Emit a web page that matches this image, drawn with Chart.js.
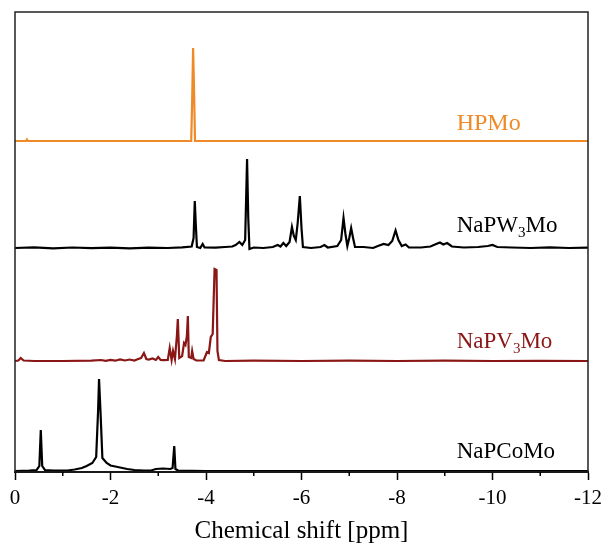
<!DOCTYPE html>
<html>
<head>
<meta charset="utf-8">
<script src="https://cdn.jsdelivr.net/npm/chart.js@4"></script>
<style>
  body { margin: 0; background: #fff; }
</style>
</head>
<body>
<canvas id="myChart" width="601" height="544"></canvas>
<script>
// spectra as [chemical shift (ppm), intensity]
const hpmo = [[0,0],[-0.23,0],[-0.25,1.5],[-0.27,0],[-3.69,0],[-3.71,40],[-3.73,93],[-3.75,50],[-3.77,0],[-12,0]];

const napw3mo = [[0,0],[-0.4,0.6],[-0.8,-0.3],[-1.2,0.5],[-1.6,-0.2],[-2.0,0.4],[-2.4,-0.4],[-2.8,0.3],[-3.2,0],[-3.5,0.6],
  [-3.7,1.5],[-3.74,10],[-3.765,47],[-3.785,25],[-3.81,1],[-3.88,0],[-3.93,4],[-3.97,0.5],[-4.2,0.3],[-4.4,1],[-4.55,1.5],
  [-4.62,3],[-4.7,6],[-4.76,3],[-4.82,8],[-4.86,89],[-4.885,30],[-4.91,-1],[-5.0,0.5],[-5.2,0],[-5.4,1],[-5.5,3],[-5.56,1.5],
  [-5.62,5],[-5.68,2],[-5.75,6],[-5.8,21],[-5.84,12],[-5.88,8],[-5.92,25],[-5.965,52],[-6.0,20],[-6.03,1],[-6.2,0],[-6.4,1],
  [-6.48,3],[-6.55,0.5],[-6.75,2],[-6.83,8],[-6.88,30],[-6.92,14],[-6.96,2],[-7.0,10],[-7.04,20],[-7.08,10],[-7.12,1],
  [-7.3,1],[-7.5,0],[-7.6,2],[-7.72,4],[-7.82,3],[-7.9,7],[-7.97,17.5],[-8.03,8],[-8.1,2],[-8.18,3.5],[-8.25,0.5],[-8.5,0.5],
  [-8.7,1.5],[-8.82,4],[-8.9,5.5],[-8.97,3.5],[-9.05,5],[-9.15,1.5],[-9.4,0.5],[-9.7,1],[-9.9,2],[-10.0,3],[-10.1,1],
  [-10.4,0.5],[-10.8,0],[-11.2,0.6],[-11.6,0],[-12,0.3]];

const napv3mo = [[0,0],[-0.07,0.5],[-0.12,3],[-0.18,0.5],[-0.4,0],[-1.0,0],[-1.6,0.3],[-1.8,1],[-1.9,0.2],[-2.0,1.2],[-2.1,0.3],
  [-2.2,1.5],[-2.3,0.5],[-2.4,1.5],[-2.5,0.5],[-2.58,2],[-2.64,3],[-2.7,8],[-2.75,2],[-2.8,1.5],[-2.88,2.5],[-2.95,1],[-3.0,4],
  [-3.05,1],[-3.1,0.8],[-3.2,1],[-3.24,13],[-3.28,1],[-3.31,10],[-3.35,2],[-3.39,25],[-3.41,42],[-3.44,3],[-3.5,5],[-3.54,18],
  [-3.57,16],[-3.6,25],[-3.62,45],[-3.64,4],[-3.69,3],[-3.71,10],[-3.74,2],[-3.8,0.5],[-3.95,0.5],[-4.02,9],[-4.06,8],
  [-4.1,24],[-4.14,27],[-4.16,60],[-4.18,92],[-4.22,91],[-4.24,10],[-4.27,1],[-4.4,0],[-5.0,0.3],[-6,0],[-7,0.3],[-8,0],
  [-9,0.3],[-10,0],[-11,0.2],[-12,0]];

const napcomo = [[0,0],[-0.3,0.3],[-0.45,0.8],[-0.51,5],[-0.54,41],[-0.57,5],[-0.63,0.8],[-0.8,0.3],[-1.1,0.5],[-1.25,1.5],
  [-1.4,3],[-1.5,5],[-1.62,8],[-1.7,14],[-1.74,60],[-1.76,92],[-1.79,60],[-1.83,13],[-1.92,8],[-2.0,5.5],[-2.1,4.5],
  [-2.2,3.5],[-2.35,2],[-2.5,1],[-2.7,0.3],[-2.85,0.5],[-2.95,2],[-3.1,2.5],[-3.25,2],[-3.3,3],[-3.335,25],[-3.36,2],
  [-3.42,0.3],[-4,0],[-12,0]];

const spectra = [hpmo, napw3mo, napv3mo, napcomo];
const offsets = [331, 224, 111, 1];
const colors = ['#ef8a28', '#000000', '#8b1616', '#000000'];
// label: main text, subscript, rest ; placed by its baseline in data units
const labels = [['HPMo', '', ''], ['NaPW', '3', 'Mo'], ['NaPV', '3', 'Mo'], ['NaPCoMo', '', '']];
const labelY = [342, 240, 124, 14];
const labelX = -9.25;

const serif = "'Liberation Serif', 'Times New Roman', serif";

const datasets = spectra.map((s, i) => ({
    label: labels[i].join(''),
    data: s.map(p => ({ x: p[0], y: p[1] + offsets[i] })),
    borderColor: colors[i],
    borderWidth: 2.2,
    pointRadius: 0,
    showLine: true,
    tension: 0
}));

// frame, minor ticks and the sample names
const decorations = {
    id: 'decorations',
    afterDatasetsDraw(chart) {
        const ctx = chart.ctx;
        const a = chart.chartArea;
        const xs = chart.scales.x, ys = chart.scales.y;
        ctx.save();
        ctx.strokeStyle = '#222';
        ctx.lineWidth = 1.5;
        ctx.strokeRect(a.left, a.top, a.right - a.left, a.bottom - a.top);
        ctx.strokeStyle = '#000';
        ctx.lineWidth = 1.5;
        for (let v = -1; v >= -11; v -= 2) {
            const px = xs.getPixelForValue(v);
            ctx.beginPath();
            ctx.moveTo(px, a.bottom);
            ctx.lineTo(px, a.bottom + 4);
            ctx.stroke();
        }
        ctx.textBaseline = 'alphabetic';
        ctx.textAlign = 'left';
        labels.forEach((l, i) => {
            let px = xs.getPixelForValue(labelX);
            const py = ys.getPixelForValue(labelY[i]);
            ctx.fillStyle = colors[i];
            ctx.font = (i === 0 ? '24px ' : '23px ') + serif;
            ctx.fillText(l[0], px, py);
            px += ctx.measureText(l[0]).width;
            if (l[1]) {
                ctx.font = '15px ' + serif;
                ctx.fillText(l[1], px, py + 5);
                px += ctx.measureText(l[1]).width;
                ctx.font = '23px ' + serif;
                ctx.fillText(l[2], px, py);
            }
        });
        ctx.restore();
    }
};

new Chart(document.getElementById('myChart').getContext('2d'), {
    type: 'scatter',
    data: { datasets: datasets },
    options: {
        responsive: false,
        animation: false,
        devicePixelRatio: 1,
        layout: { padding: { left: 15, right: 13, top: 12, bottom: 0 } },
        plugins: { legend: { display: false }, tooltip: { enabled: false } },
        scales: {
            x: {
                type: 'linear',
                reverse: true,
                min: -12,
                max: 0,
                border: { display: true, color: '#000', width: 2 },
                grid: { display: true, drawOnChartArea: false, drawTicks: true, tickLength: 8, tickColor: '#000', tickWidth: 1.5 },
                ticks: {
                    stepSize: 2,
                    color: '#000',
                    padding: 8,
                    maxRotation: 0,
                    font: { family: serif, size: 21, lineHeight: 1 }
                },
                title: {
                    display: true,
                    text: 'Chemical shift [ppm]',
                    color: '#000',
                    font: { family: serif, size: 25, lineHeight: 1 },
                    padding: { top: 10, bottom: 0 }
                },
                // keep the plot box where the picture has it
                afterFit(scale) {
                    scale.height = 72;
                    scale.paddingLeft = 0;
                    scale.paddingRight = 0;
                }
            },
            y: {
                display: false,
                min: 0,
                max: 460
            }
        }
    },
    plugins: [decorations]
});
</script>
</body>
</html>
